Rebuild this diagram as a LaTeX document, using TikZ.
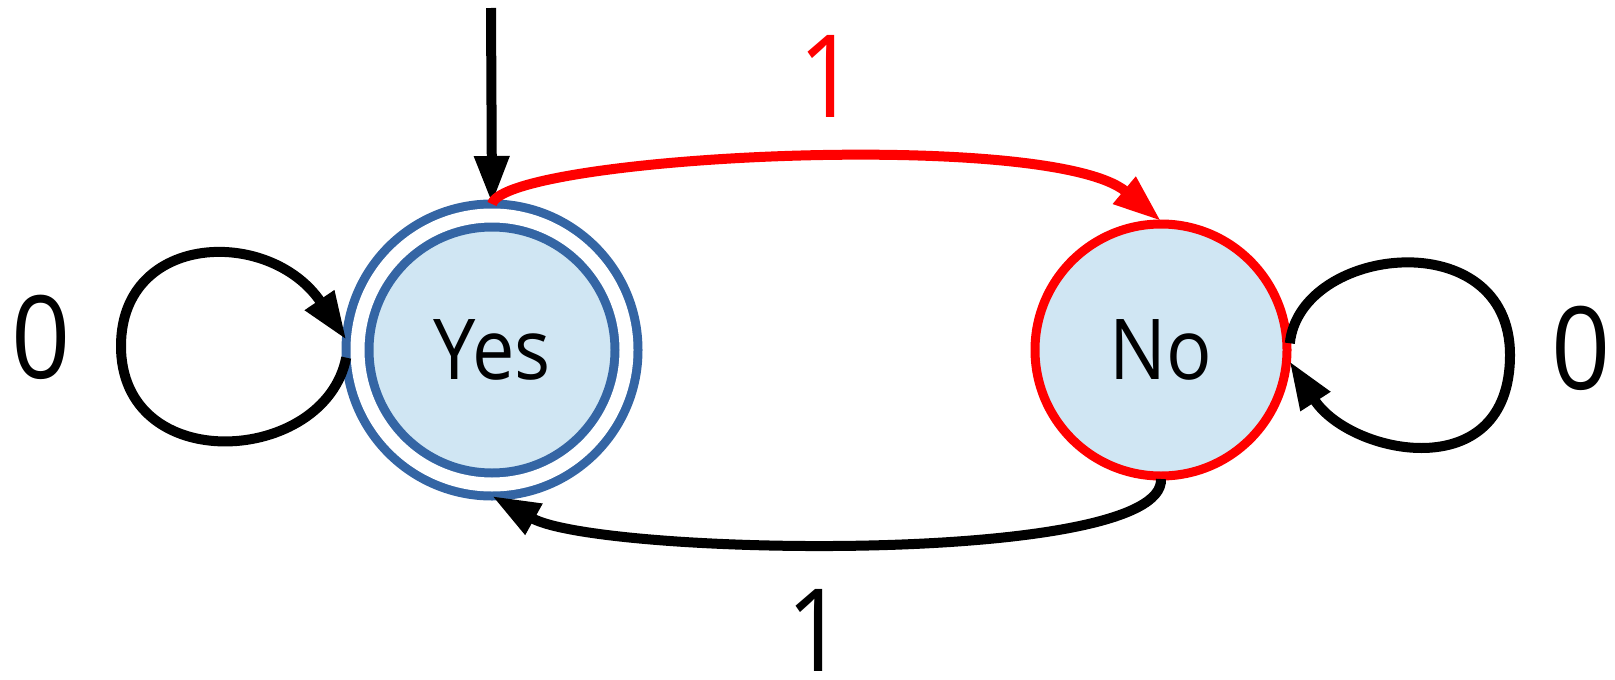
\documentclass[tikz,border=0pt]{standalone}
\usepackage{graphicx}
\usepackage{fontspec}
\setmainfont{Open Sans}
\usepackage{xcolor}
\usetikzlibrary{arrows.meta}
\definecolor{stateblue}{RGB}{52,101,164}
\definecolor{statefill}{RGB}{208,230,243}
\newcommand{\sq}[1]{\scalebox{0.9}[1]{#1}}

\begin{document}
\begin{tikzpicture}[
      x=1pt, y=-1pt,
      state/.style={circle, fill=statefill, line width=9pt, inner sep=0pt,
                    font=\fontsize{84}{84}\selectfont},
      accept/.style={state, draw=stateblue, double=white, double distance=14pt,
                     minimum size=269pt, outer sep=11.5pt},
      reject/.style={state, draw=red, minimum size=252pt, outer sep=3pt},
      lbl/.style={inner sep=0pt, font=\fontsize{115}{115}\selectfont},
      arrow/.style={-{Triangle[length=48pt,width=33pt]}, line width=10pt}
    ]
    \useasboundingbox (0,0) rectangle (1615,680);

    \node[accept] (yes) at (492,350) {\sq{Yes}};
    \node[reject] (no)  at (1161,350) {\sq{No}};
    \coordinate (start) at (491,8);

    \node[lbl]          (l00) at (41,337)   {\sq{0}};
    \node[lbl]          (l11) at (1581,348) {\sq{0}};
    \node[lbl, red]     (l01) at (828,76)   {\sq{1}};
    \node[lbl]          (l10) at (816,630)  {\sq{1}};

    \draw[arrow] (start) -- (yes.north);
    \draw[arrow, red] (yes.north) .. controls (505,156) and (1050,128) .. (no.north);
    \draw[arrow] (no.south) .. controls (1165,566) and (600,556) .. (yes.south);

    % self loops
    \draw[arrow] (yes.183) .. controls (325,465) and (120,478) .. (121,345)
                 .. controls (122,232) and (270,227) .. (yes.176);
    \draw[arrow] (no.3) .. controls (1300,245) and (1510,222) .. (1510,355)
                 .. controls (1510,488) and (1350,455) .. (no.355);
  \end{tikzpicture}
\end{document}
